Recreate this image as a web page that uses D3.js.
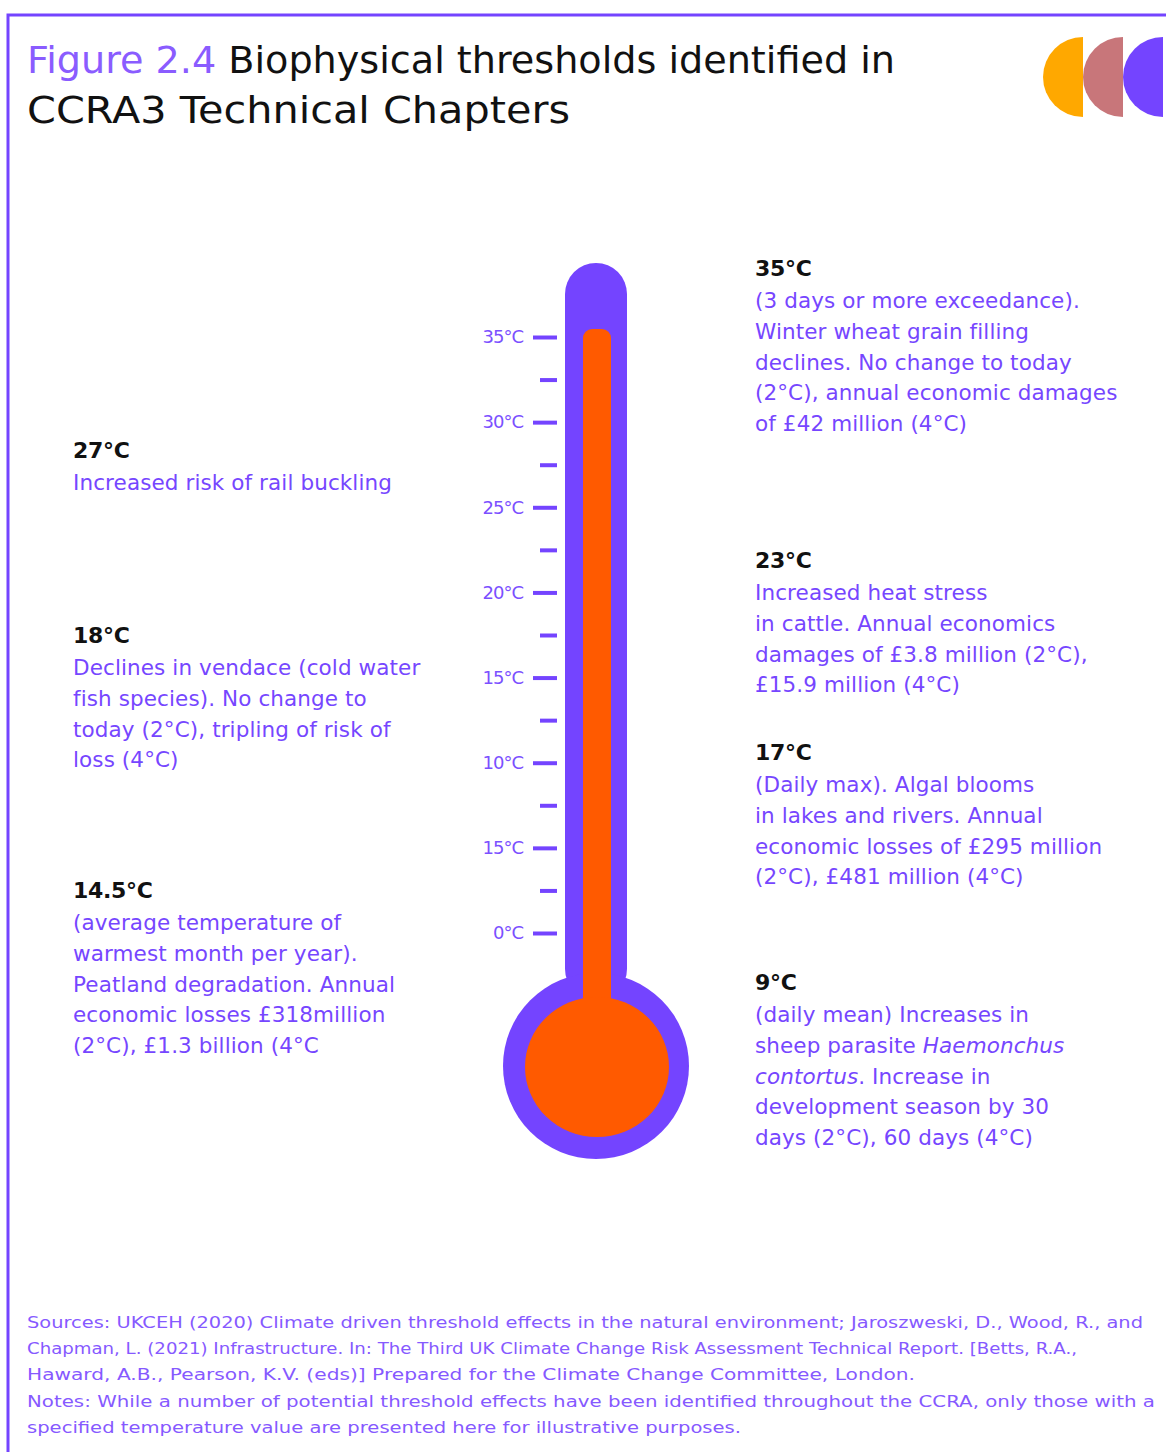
<!DOCTYPE html>
<html>
  <head>
    <meta charset="utf-8">
    <title>Biophysical thresholds</title>
    <script src="https://d3js.org/d3.v7.min.js"></script>
    <style>
      body { margin: 0; background: #fff; }
      svg { display: block; }
    </style>
  </head>
  <body>
    <svg width="1166" height="1452"></svg>

    <script>
      // data
      var tickValues = [0, 5, 10, 15, 20, 25, 30, 35];
      var tickLabels = ["0°C", "15°C", "10°C", "15°C", "20°C", "25°C", "30°C", "35°C"]; // as printed
      var minorTicks = [2.5, 7.5, 12.5, 17.5, 22.5, 27.5, 32.5];
      var mercuryLevel = 35;

      var rightHeads = ["35°C", "23°C", "17°C", "9°C"];
      var rightLines = [
        ["(3 days or more exceedance).", "Winter wheat grain filling", "declines. No change to today", "(2°C), annual economic damages", "of £42 million (4°C)"],
        ["Increased heat stress", "in cattle. Annual economics", "damages of £3.8 million (2°C),", "£15.9 million (4°C)"],
        ["(Daily max).  Algal blooms", "in lakes and rivers. Annual", "economic losses of £295 million", "(2°C), £481 million (4°C)"],
        ["(daily mean) Increases in", "sheep parasite *Haemonchus*", "*contortus*. Increase in", "development season by 30", "days (2°C), 60 days (4°C)"]
      ];
      var leftHeads = ["27°C", "18°C", "14.5°C"];
      var leftLines = [
        ["Increased risk of rail buckling"],
        ["Declines in vendace (cold water", "fish species). No change to", "today (2°C), tripling of risk of", "loss (4°C)"],
        ["(average temperature of", "warmest month per year).", "Peatland degradation. Annual", "economic losses £318million", "(2°C), £1.3 billion (4°C"]
      ];
      var sourceLines = [
        "Sources: UKCEH (2020) Climate driven threshold effects in the natural environment; Jaroszweski, D., Wood, R., and",
        "Chapman, L. (2021) Infrastructure. In: The Third UK Climate Change Risk Assessment Technical Report. [Betts, R.A.,",
        "Haward, A.B., Pearson, K.V. (eds)] Prepared for the Climate Change Committee, London.",
        "Notes: While a number of potential threshold effects have been identified throughout the CCRA, only those with a",
        "specified temperature value are presented here for illustrative purposes."
      ];
      var sourceWidths = [1116, 1050, 888, 1128, 714];
      var logoColors = ["#ffa800", "#c8767a", "#7444ff"];

      var purple = "#7444ff";
      var orange = "#ff5a00";

      var svg = d3.select("svg");

      // frame
      svg.append("path")
        .attr("d", "M8,1452 V15 H1166")
        .attr("fill", "none")
        .attr("stroke", purple)
        .attr("stroke-width", 3);

      // title
      var title = svg.append("text")
        .attr("font-family", "'DejaVu Sans', sans-serif")
        .attr("font-size", 38)
        .attr("fill", "#111");
      title.append("tspan").attr("x", 27).attr("y", 73)
        .attr("textLength", 868).attr("lengthAdjust", "spacingAndGlyphs")
        .html("<tspan fill='#8a5cff'>Figure 2.4</tspan> Biophysical thresholds identified in");
      title.append("tspan").attr("x", 27).attr("y", 123)
        .attr("textLength", 543).attr("lengthAdjust", "spacingAndGlyphs")
        .text("CCRA3 Technical Chapters");

      // logo: three half discs
      var arc = d3.arc().innerRadius(0).outerRadius(40).startAngle(Math.PI).endAngle(2 * Math.PI);
      svg.append("g").selectAll("path")
        .data(logoColors)
        .join("path")
        .attr("transform", function(d, i) { return "translate(" + (1083 + i * 40) + ",77)"; })
        .attr("d", arc)
        .attr("fill", function(d) { return d; });

      // thermometer scale
      var y = d3.scaleLinear().domain([0, 35]).range([933, 337]);
      var cx = 596;

      var thermo = svg.append("g");
      thermo.append("rect")
        .attr("x", cx - 31).attr("width", 62)
        .attr("y", y(35) - 74).attr("height", 1000 - (y(35) - 74))
        .attr("rx", 31)
        .attr("fill", purple);
      thermo.append("circle")
        .attr("cx", cx).attr("cy", 1066).attr("r", 93)
        .attr("fill", purple);
      thermo.append("rect")
        .attr("x", cx - 13).attr("width", 28)
        .attr("y", y(mercuryLevel) - 8).attr("height", 1066 - (y(mercuryLevel) - 8))
        .attr("rx", 9)
        .attr("fill", orange);
      thermo.append("ellipse")
        .attr("cx", cx + 1).attr("cy", 1067).attr("rx", 72).attr("ry", 70)
        .attr("fill", orange);

      // major ticks with labels
      var axis = d3.axisLeft(y)
        .tickValues(tickValues)
        .tickSize(24)
        .tickPadding(10)
        .tickFormat(function(d, i) { return tickLabels[i]; });
      var ag = svg.append("g")
        .attr("transform", "translate(557,0)")
        .call(axis);
      ag.select(".domain").remove();
      ag.selectAll(".tick line").attr("stroke", purple).attr("stroke-width", 4);
      ag.selectAll(".tick text")
        .attr("fill", "#7b50ff")
        .attr("font-family", "'DejaVu Sans', sans-serif")
        .attr("font-size", 18)
        .attr("letter-spacing", -1);

      // minor ticks
      var minor = d3.axisLeft(y).tickValues(minorTicks).tickSize(17).tickFormat("");
      var mg = svg.append("g")
        .attr("transform", "translate(557,0)")
        .call(minor);
      mg.select(".domain").remove();
      mg.selectAll(".tick line").attr("stroke", purple).attr("stroke-width", 4);

      // text blocks
      function drawBlock(x, top, head, lines) {
        var g = svg.append("g").attr("font-family", "'DejaVu Sans', sans-serif");
        g.append("text")
          .attr("x", x).attr("y", top + 8)
          .attr("font-size", 22)
          .attr("font-weight", "bold")
          .attr("letter-spacing", -0.3)
          .attr("fill", "#111")
          .text(head);
        lines.forEach(function(line, i) {
          var t = g.append("text")
            .attr("x", x).attr("y", top + 40 + i * 30.8)
            .attr("font-size", 21.5)
            .attr("letter-spacing", 0.1)
            .attr("fill", "#7646ff");
          line.split("*").forEach(function(seg, j) {
            if (!seg) return;
            t.append("tspan").attr("font-style", j % 2 ? "italic" : "normal").text(seg);
          });
        });
      }
      var rightTops = [268, 560, 752, 982];
      var leftTops = [450, 635, 890];
      rightHeads.forEach(function(h, i) { drawBlock(755, rightTops[i], h, rightLines[i]); });
      leftHeads.forEach(function(h, i) { drawBlock(73, leftTops[i], h, leftLines[i]); });

      // sources and notes
      var src = svg.append("g")
        .attr("font-family", "'DejaVu Sans', sans-serif")
        .attr("font-size", 16.5)
        .attr("fill", "#8659ff");
      sourceLines.forEach(function(line, i) {
        src.append("text")
          .attr("x", 27).attr("y", 1328 + i * 26.2)
          .attr("textLength", sourceWidths[i])
          .attr("lengthAdjust", "spacingAndGlyphs")
          .text(line);
      });
    </script>
  </body>
</html>
